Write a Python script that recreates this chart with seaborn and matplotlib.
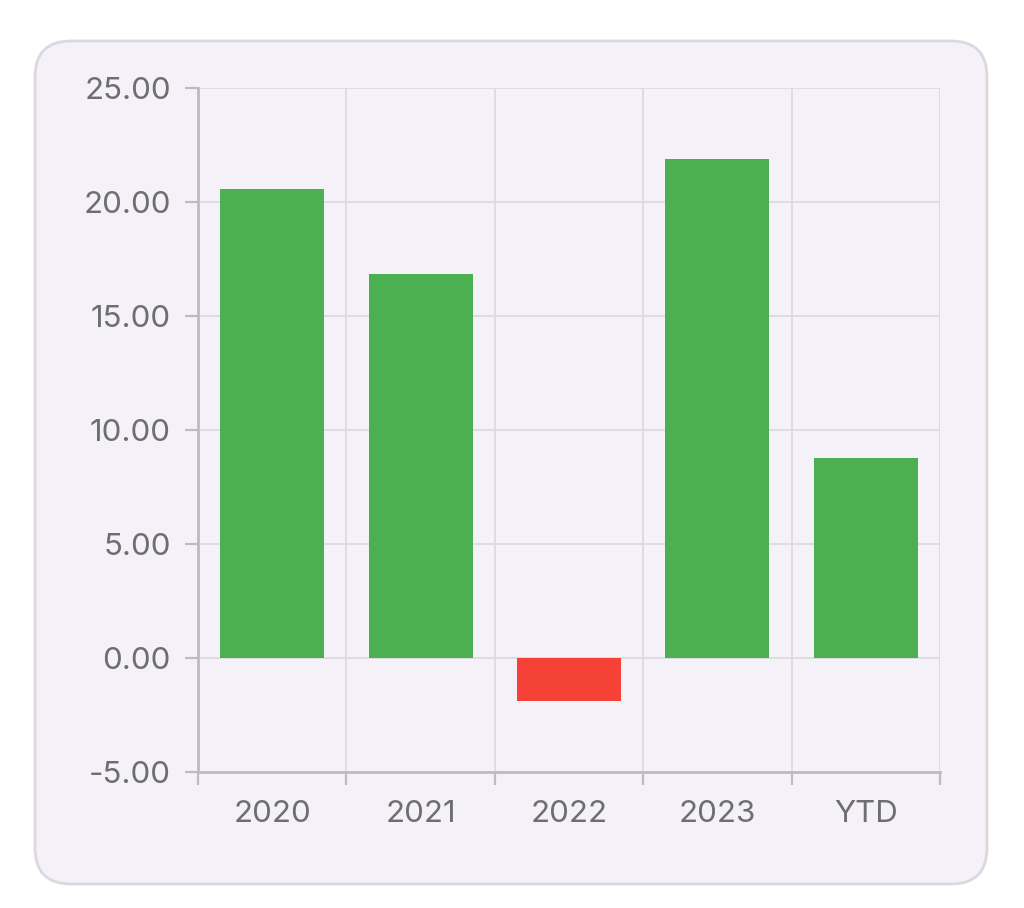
import matplotlib
matplotlib.use("Agg")
import matplotlib.pyplot as plt
import seaborn as sns
from matplotlib.patches import FancyBboxPatch
from matplotlib.ticker import FixedLocator

# donnees du graphique
periods = ["2020", "2021", "2022", "2023", "YTD"]
returns = [20.57, 16.84, -1.89, 21.89, 8.77]
y_ticks = [-5, 0, 5, 10, 15, 20, 25]

GREEN = "#4CAF50"
RED = "#F44336"
CARD = "#F5F1F8"
TEXT = "#6E6E6E"

sns.set_theme(style="white")
plt.rcParams["font.family"] = ["Inter", "DejaVu Sans"]
plt.rcParams["axes.unicode_minus"] = False

fig = plt.figure(figsize=(10.24, 9.08), dpi=100)
fig.patch.set_facecolor("white")

# carte arrondie en fond
card = FancyBboxPatch((0.35, 0.24), 9.52, 8.43,
                      boxstyle="round,pad=0,rounding_size=0.36",
                      transform=fig.dpi_scale_trans,
                      facecolor=CARD, edgecolor="#DCD8DE", linewidth=2,
                      zorder=-10)
fig.add_artist(card)

ax = fig.add_axes([198 / 1024, (908 - 772) / 908, (940 - 198) / 1024, (772 - 88) / 908])
ax.set_zorder(1)
ax.patch.set_alpha(0)

colors = [GREEN if v >= 0 else RED for v in returns]
sns.barplot(x=periods, y=returns, hue=periods, palette=colors, legend=False,
            width=0.7, saturation=1, linewidth=0, ax=ax, zorder=3)

ax.set_ylim(-5, 25)
ax.set_xlim(-0.5, len(periods) - 0.5)
ax.set_yticks(y_ticks)
ax.set_yticklabels([f"{t:.2f}" for t in y_ticks])
ax.xaxis.set_minor_locator(FixedLocator([i - 0.5 for i in range(len(periods) + 1)]))

ax.set_axisbelow(True)
ax.grid(axis="y", which="major", color="#DCDADF", linewidth=1.3)
ax.grid(axis="x", which="minor", color="#DCDADF", linewidth=1.3)

for side in ["top", "right"]:
    ax.spines[side].set_visible(False)
for side in ["left", "bottom"]:
    ax.spines[side].set_color("#BDBBBF")
    ax.spines[side].set_linewidth(2)

ax.tick_params(axis="y", which="major", left=True, length=9.5, width=1.6,
               color="#BDBBBF", pad=10, labelsize=22.5, labelcolor=TEXT)
ax.tick_params(axis="x", which="major", bottom=False, length=0, pad=20,
               labelsize=22.5, labelcolor=TEXT)
ax.tick_params(axis="x", which="minor", bottom=True, length=9, width=1.6,
               color="#BDBBBF")
ax.set_xlabel("")
ax.set_ylabel("")

plt.savefig("out.png", dpi=100, facecolor="white")
